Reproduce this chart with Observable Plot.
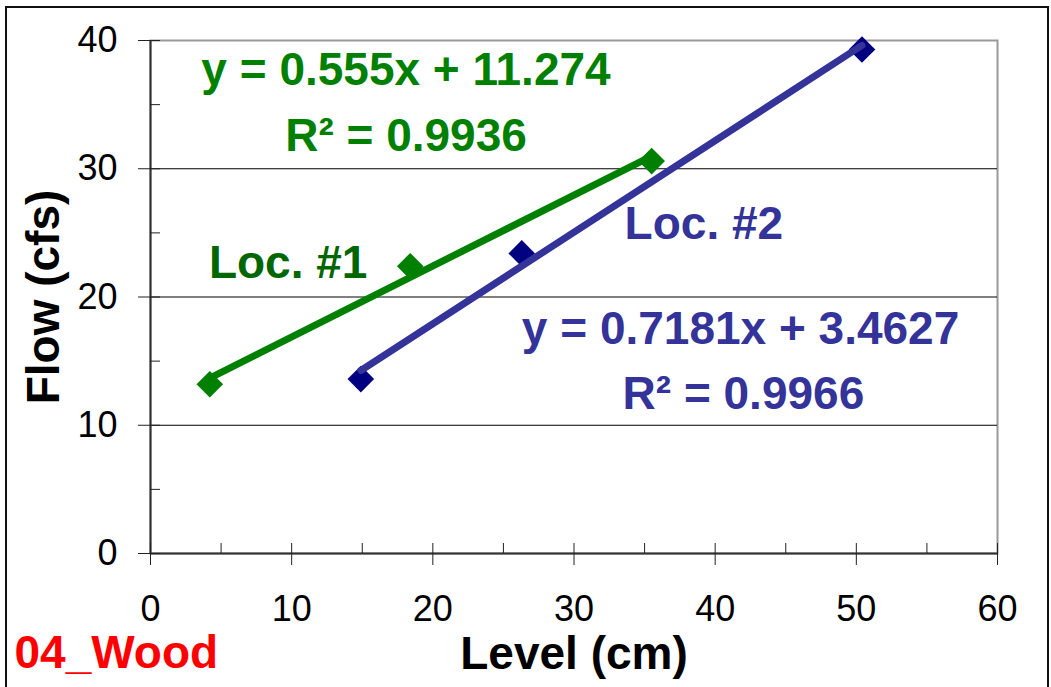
<!DOCTYPE html>
<html><head><meta charset="utf-8">
<script src="https://cdn.jsdelivr.net/npm/d3@7"></script>
<script src="https://cdn.jsdelivr.net/npm/@observablehq/plot@0.6"></script>
<style>
html,body{margin:0;padding:0;background:#fff;overflow:hidden;}
#wrap{position:relative;width:1051px;height:687px;}
#border{position:absolute;left:5px;top:6px;width:1040px;height:700px;border:2px solid #111;pointer-events:none;}
</style></head><body><div id="wrap"><div id="border"></div></div>
<script>
// ---- data ----
const seriesNames = ["Loc. #1", "Loc. #2"];
const loc1Level = [4.2, 18.4, 35.5];
const loc1Flow = [13.2, 22.4, 30.6];
const loc2Level = [14.9, 26.3, 50.4];
const loc2Flow = [13.6, 23.4, 39.3];
const equations = ["y = 0.555x + 11.274", "y = 0.7181x + 3.4627"];
const rSquared = ["R² = 0.9936", "R² = 0.9966"];
const xMajorTicks = [0, 10, 20, 30, 40, 50, 60];
const xMinorTicks = [5, 15, 25, 35, 45, 55];
const yMajorTicks = [0, 10, 20, 30, 40];
const yMinorTicks = [5, 15, 25, 35];
const gridTicks = [10, 20, 30];
const xTitle = "Level (cm)";
const yTitle = "Flow (cfs)";
const siteLabel = "04_Wood";

// ---- styles ----
const markerColors = {"Loc. #1": "#008000", "Loc. #2": "#000080"};
const lineColors = {"Loc. #1": "#008000", "Loc. #2": "#333399"};
const FONT = "'Liberation Sans', Arial, sans-serif";

const points = [
  ...loc1Level.map((v, i) => ({series: seriesNames[0], level: v, flow: loc1Flow[i]})),
  ...loc2Level.map((v, i) => ({series: seriesNames[1], level: v, flow: loc2Flow[i]}))
];

// annotation placement (data units)
const annotations = [
  {text: equations[0], x: 18.1, y: 36.5, color: "#008000"},
  {text: rSquared[0], x: 18.1, y: 31.4, color: "#008000"},
  {text: seriesNames[0], x: 9.75, y: 21.5, color: "#006600"},
  {text: seriesNames[1], x: 39.2, y: 24.55, color: "#333399"},
  {text: equations[1], x: 41.8, y: 16.35, color: "#333399"},
  {text: rSquared[1], x: 42.0, y: 11.3, color: "#333399"}
];

const series1 = points.filter(d => d.series === seriesNames[0]);
const series2 = points.filter(d => d.series === seriesNames[1]);

const chart = Plot.plot({
  width: 1051,
  height: 687,
  marginLeft: 150,
  marginRight: 54,
  marginTop: 40,
  marginBottom: 134,
  style: {fontFamily: FONT, fontSize: "36px", background: "transparent", color: "#000", overflow: "visible"},
  x: {domain: [0, 60], axis: null},
  y: {domain: [0, 40], axis: null},
  marks: [
    Plot.frame({stroke: "#999", strokeWidth: 2}),
    Plot.ruleY(gridTicks, {stroke: "#000", strokeWidth: 1}),
    Plot.ruleX([0], {stroke: "#333", strokeWidth: 2}),
    Plot.ruleY([0], {stroke: "#333", strokeWidth: 2}),
    // y axis: major (crossing) ticks with labels, minor inside ticks
    Plot.axisY(yMajorTicks, {anchor: "left", tickSize: 22, dx: 10, tickPadding: 21, fontSize: 36, stroke: "#222", fill: "#000", label: null}),
    Plot.axisY(yMinorTicks, {anchor: "left", tickSize: 10, dx: 10, tickFormat: () => "", stroke: "#222", label: null}),
    // x axis
    Plot.axisX(xMajorTicks, {anchor: "bottom", tickSize: 22, dy: -10, tickPadding: 30, fontSize: 36, stroke: "#222", fill: "#000", label: null}),
    Plot.axisX(xMinorTicks, {anchor: "bottom", tickSize: 10, dy: -10, tickFormat: () => "", stroke: "#222", label: null}),
    // markers
    Plot.dot(points, {x: "level", y: "flow", symbol: "diamond2", r: 12, fill: d => markerColors[d.series], stroke: "none"}),
    // trend lines
    Plot.linearRegressionY(series1, {x: "level", y: "flow", stroke: lineColors[seriesNames[0]], strokeWidth: 7, strokeLinecap: "round", ci: 0}),
    Plot.linearRegressionY(series2, {x: "level", y: "flow", stroke: lineColors[seriesNames[1]], strokeWidth: 7, strokeLinecap: "round", ci: 0}),
    // annotations
    Plot.text(annotations, {x: "x", y: "y", text: "text", fill: "color", fontSize: 46, fontWeight: "bold", textAnchor: "middle", lineAnchor: "bottom"}),
    // axis titles and site label
    Plot.text([xTitle], {frameAnchor: "bottom", text: d => d, dy: 115, textAnchor: "middle", lineAnchor: "bottom", fontSize: 46, fontWeight: "bold", fill: "#000"}),
    Plot.text([yTitle], {frameAnchor: "left", text: d => d, rotate: -90, dx: -92, textAnchor: "middle", lineAnchor: "bottom", fontSize: 46, fontWeight: "bold", fill: "#000"}),
    Plot.text([siteLabel], {frameAnchor: "bottom-left", text: d => d, dx: -136, dy: 114, textAnchor: "start", lineAnchor: "bottom", fontSize: 46, fontWeight: "bold", fill: "#ff0000"})
  ]
});
document.getElementById("wrap").prepend(chart);
</script>
</body></html>
